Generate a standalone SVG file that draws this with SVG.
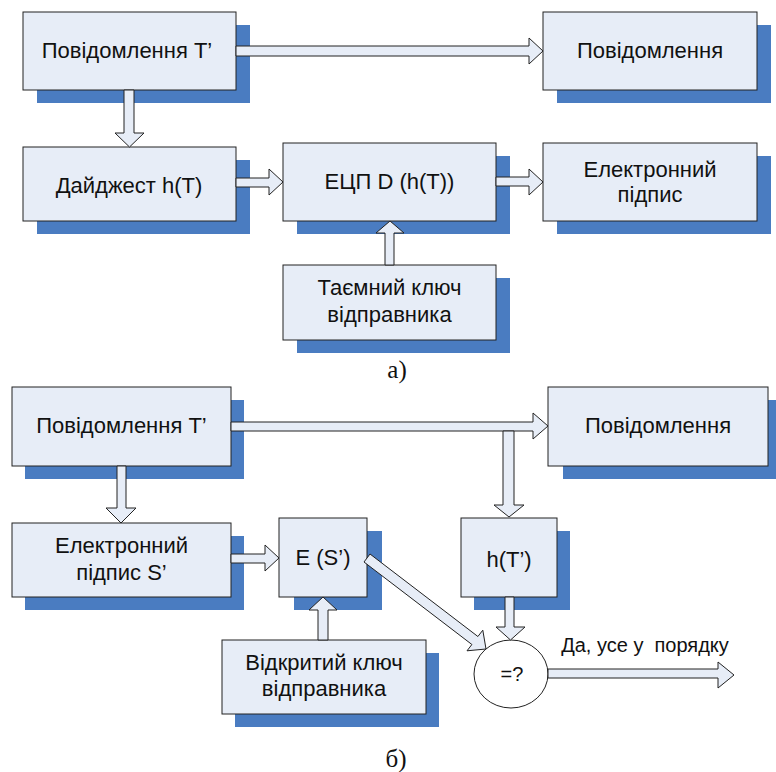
<svg xmlns="http://www.w3.org/2000/svg" width="776" height="772" viewBox="0 0 776 772">
<style>
.sh{fill:#4a7cc1}
.bx{fill:#e7edf7;stroke:#222;stroke-width:1}
.ar{fill:#e7edf7;stroke:#222;stroke-width:1;stroke-linejoin:miter}
.t{font-family:"Liberation Sans",Arial,sans-serif;font-size:22px;fill:#111;text-anchor:middle}
.cap{font-family:"Liberation Serif","Times New Roman",serif;font-size:25px;fill:#111;text-anchor:middle}
</style>
<rect width="776" height="772" fill="#fff"/>
<g id="n-msg-t-a"><rect class="sh" x="37" y="25" width="213" height="78"/><rect class="bx" x="23" y="12" width="213" height="78"/><text class="t" x="127" y="58">Повідомлення T’</text></g>
<g id="n-msg-a"><rect class="sh" x="557" y="25" width="214" height="78"/><rect class="bx" x="543" y="12" width="214" height="78"/><text class="t" x="650" y="58">Повідомлення</text></g>
<g id="n-digest"><rect class="sh" x="37" y="160" width="213" height="74"/><rect class="bx" x="23" y="147" width="213" height="74"/><text class="t" x="129" y="193">Дайджест h(T)</text></g>
<g id="n-ecp"><rect class="sh" x="297" y="156" width="213" height="78"/><rect class="bx" x="283" y="143" width="213" height="78"/><text class="t" x="389.5" y="189">ЕЦП D (h(T))</text></g>
<g id="n-esig-a"><rect class="sh" x="557" y="156" width="214" height="78"/><rect class="bx" x="543" y="143" width="214" height="78"/><text class="t" x="650" y="177">Електронний</text><text class="t" x="650" y="202">підпис</text></g>
<g id="n-secret"><rect class="sh" x="297" y="278" width="213" height="75"/><rect class="bx" x="283" y="265" width="213" height="75"/><text class="t" x="389.5" y="295">Таємний ключ</text><text class="t" x="389.5" y="322">відправника</text></g>
<text class="cap" x="397" y="378">а)</text>

<g id="n-msg-t-b"><rect class="sh" x="25" y="400" width="219" height="79"/><rect class="bx" x="12" y="387" width="219" height="79"/><text class="t" x="121.5" y="433">Повідомлення T’</text></g>
<g id="n-msg-b"><rect class="sh" x="563" y="400" width="220" height="79"/><rect class="bx" x="548" y="387" width="220" height="79"/><text class="t" x="658" y="433">Повідомлення</text></g>
<g id="n-esig-b"><rect class="sh" x="25" y="536" width="219" height="74"/><rect class="bx" x="12" y="523" width="219" height="74"/><text class="t" x="121.5" y="553">Електронний</text><text class="t" x="121.5" y="580">підпис S’</text></g>
<g id="n-es"><rect class="sh" x="294" y="531" width="88" height="79"/><rect class="bx" x="279" y="518" width="88" height="79"/><text class="t" x="323" y="565">E (S’)</text></g>
<g id="n-ht"><rect class="sh" x="474" y="531" width="96" height="79"/><rect class="bx" x="461" y="518" width="96" height="79"/><text class="t" x="509" y="567">h(T’)</text></g>
<g id="n-public"><rect class="sh" x="235" y="653" width="204" height="74"/><rect class="bx" x="222" y="640" width="204" height="74"/><text class="t" x="324" y="670">Відкритий ключ</text><text class="t" x="324" y="696">відправника</text></g>
<g id="n-cmp"><ellipse cx="511" cy="674" rx="37" ry="34" fill="#fff" stroke="#222" stroke-width="1"/><text class="t" x="512" y="681" style="font-size:20px">=?</text></g>
<text class="t" x="645" y="652" xml:space="preserve" style="font-size:20px">Да, усе у  порядку</text>
<text class="cap" x="396" y="767">б)</text>

<g id="connectors">
<polygon class="ar" points="236,46 529,46 529,38 543,51 529,64 529,56 236,56"/>
<polygon class="ar" points="124,90 134,90 134,133 144,133 129.5,147 115,133 124,133"/>
<polygon class="ar" points="236,178 269,178 269,169 283,182 269,195 269,187 236,187"/>
<polygon class="ar" points="496,177 529,177 529,169 543,182 529,195 529,186 496,186"/>
<polygon class="ar" points="385,265 385,233 376,233 390,221 404,233 394,233 394,265"/>

<polygon class="ar" points="231,422 533,422 533,413 548,426 533,439 533,431 231,431"/>
<polygon class="ar" points="503,431 514,431 514,505 524,505 509,517 494,505 503,505"/>
<polygon class="ar" points="117,466 126,466 126,508 136,508 121,523 106,508 117,508"/>
<polygon class="ar" points="231,554 265,554 265,545 279,558 265,571 265,563 231,563"/>
<polygon class="ar" points="318,640 318,610 309,610 323,597 337,610 328,610 328,640"/>
<polygon class="ar" points="364,562 471.9,644.5 467,650.8 486,649 482.8,630.2 477.9,636.5 370,554"/>
<polygon class="ar" points="505,597 514,597 514,627 525,627 510.5,640 496,627 505,627"/>
<polygon class="ar" points="548,669 718,669 718,662 734,675 718,688 718,678 548,678"/>
</g>
</svg>
